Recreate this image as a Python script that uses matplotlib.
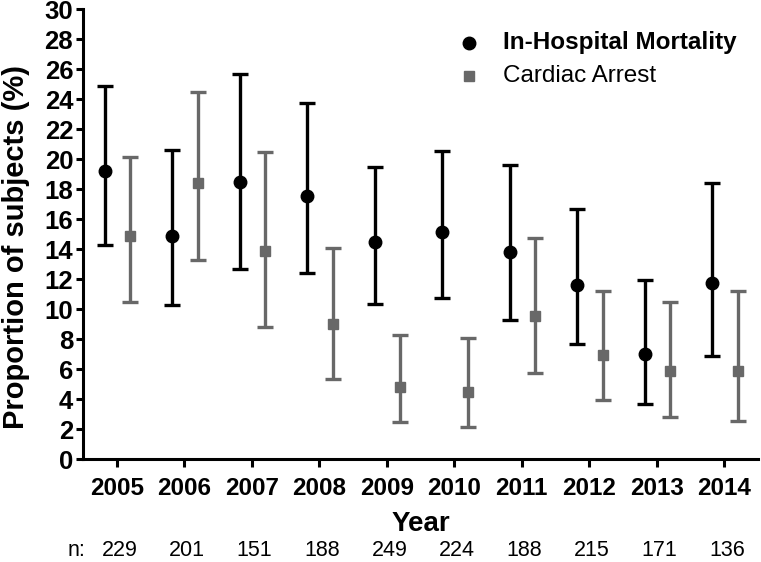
import matplotlib
matplotlib.use("Agg")
import numpy as np
from matplotlib import pyplot as plt
from matplotlib.transforms import blended_transform_factory

# data
years = [2005, 2006, 2007, 2008, 2009, 2010, 2011, 2012, 2013, 2014]
n_counts = [229, 201, 151, 188, 249, 224, 188, 215, 171, 136]

mort = [19.2, 14.9, 18.5, 17.56, 14.46, 15.18, 13.83, 11.61, 7.02, 11.77]
mort_hi = [24.9, 20.6, 25.7, 23.76, 19.45, 20.54, 19.63, 16.68, 11.95, 18.41]
mort_lo = [14.3, 10.3, 12.7, 12.43, 10.35, 10.75, 9.26, 7.68, 3.68, 6.88]

arrest = [14.85, 18.43, 13.9, 9.03, 4.82, 4.46, 9.57, 6.97, 5.86, 5.88]
arrest_hi = [20.12, 24.45, 20.45, 14.1, 8.26, 8.06, 14.72, 11.23, 10.5, 11.23]
arrest_lo = [10.5, 13.3, 8.81, 5.37, 2.51, 2.15, 5.77, 3.95, 2.84, 2.57]

plt.rcParams['font.family'] = ['Liberation Sans', 'DejaVu Sans']

fig = plt.figure(figsize=(7.61, 5.62), dpi=100)
ax = fig.add_axes([0.109, 0.1827, 0.887, 0.801])

x = np.array(years, dtype=float)
m = np.array(mort); a = np.array(arrest)
err_m = [m - np.array(mort_lo), np.array(mort_hi) - m]
err_a = [a - np.array(arrest_lo), np.array(arrest_hi) - a]

grey = '#686868'
ax.errorbar(x - 0.18, m, yerr=err_m, fmt='o', color='black', ms=9,
            elinewidth=2.4, capsize=5.5, capthick=2.4)
ax.errorbar(x + 0.2, a, yerr=err_a, fmt='s', color=grey, ms=7.5,
            elinewidth=2.4, capsize=5.5, capthick=2.4)

ax.set_xlim(2004.5, 2014.5)
ax.set_ylim(0, 30)
ax.set_yticks(range(0, 31, 2))
ax.set_xticks(years)
ax.set_xticklabels([str(y) for y in years], fontweight='bold', fontsize=17.5)
ax.set_yticklabels([str(v) for v in range(0, 31, 2)], fontweight='bold', fontsize=18.5)

for s in ['top', 'right']:
    ax.spines[s].set_visible(False)
for s in ['left', 'bottom']:
    ax.spines[s].set_linewidth(2.2)
ax.tick_params(axis='x', width=2.2, length=6, direction='out', pad=7)
ax.tick_params(axis='y', width=2.2, length=5, direction='out', pad=2)

ax.set_ylabel('Proportion of subjects (%)', fontsize=21, fontweight='bold')
ax.yaxis.set_label_coords(-0.078, 0.471)

trf = blended_transform_factory(ax.transAxes, fig.transFigure)
ax.text(0.5, 0.055, 'Year', transform=trf, ha='center', va='baseline',
        fontsize=20, fontweight='bold')

tr = blended_transform_factory(ax.transData, fig.transFigure)
ax.text(2004.4, 0.011, 'n:', transform=tr, ha='center', va='baseline', fontsize=15.5)
for yr, n in zip(years, n_counts):
    ax.text(yr + 0.04, 0.011, str(n), transform=tr, ha='center', va='baseline', fontsize=15.5)

# legend drawn by hand to place it like the original
ax.plot([0.572], [0.925], 'o', color='black', ms=9, transform=ax.transAxes, clip_on=False)
ax.plot([0.572], [0.851], 's', color=grey, ms=7.5, transform=ax.transAxes, clip_on=False)
ax.text(0.622, 0.925, 'In-Hospital Mortality', transform=ax.transAxes, va='center',
        fontsize=17.5, fontweight='bold')
ax.text(0.622, 0.851, 'Cardiac Arrest', transform=ax.transAxes, va='center', fontsize=17.5)

fig.savefig('out.png', dpi=100)
